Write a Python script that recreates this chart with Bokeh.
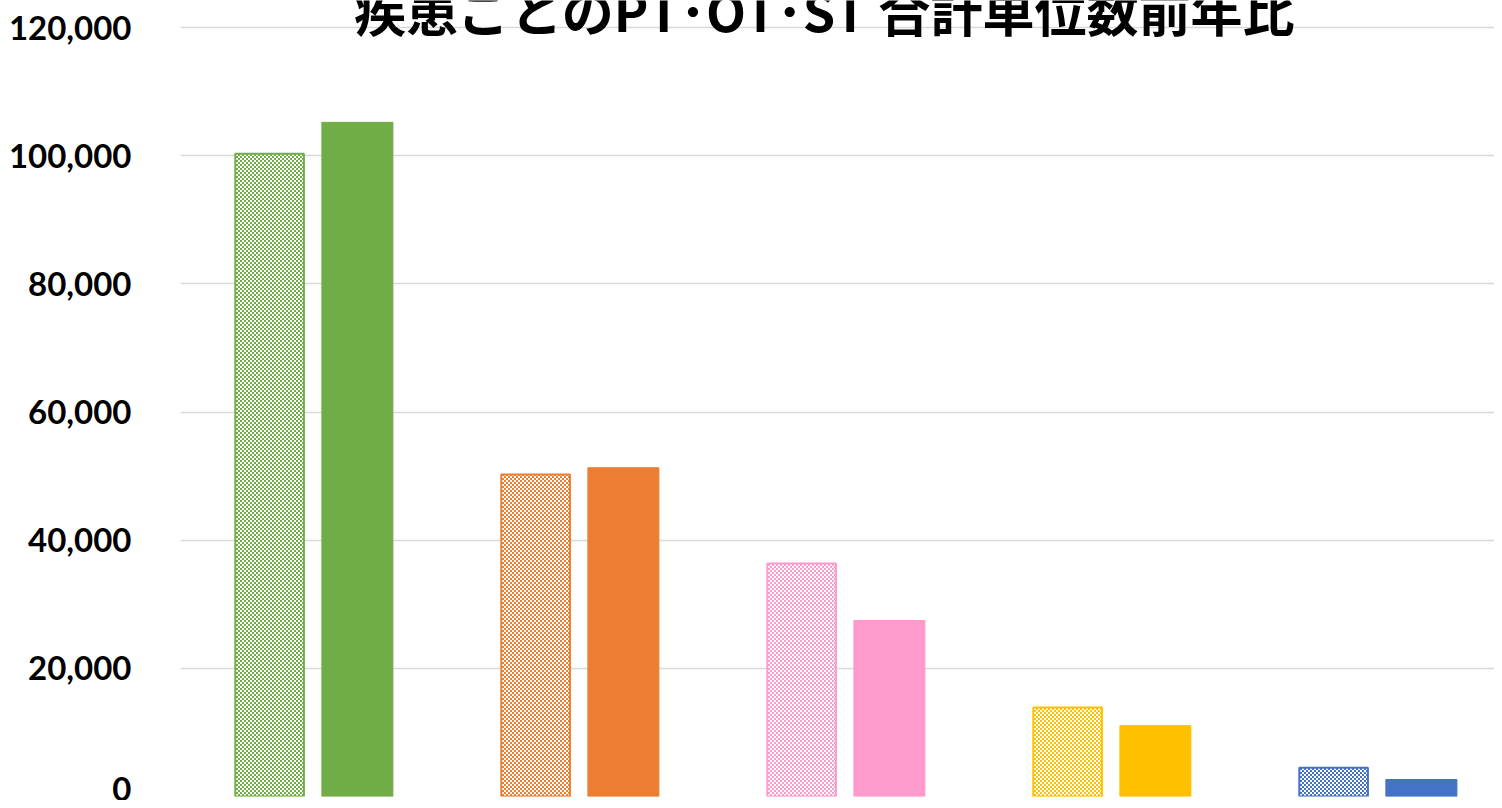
import zlib, struct, base64
from bokeh.plotting import figure
from bokeh.models import ColumnDataSource, Range1d, FixedTicker, Label, ImageURLTexture, NumeralTickFormatter
from bokeh.transform import dodge
from bokeh.embed import file_html
from bokeh.resources import INLINE

# ---- data ----
categories = ["運動器", "脳血管", "廃用症候群", "心大血管", "呼吸器"]
prev_year = [100300, 50250, 36350, 13900, 4500]
this_year = [105200, 51300, 27450, 11050, 2650]
colors = ["#70AD47", "#ED7D31", "#FF9ACD", "#FFC000", "#4472C4"]
y_ticks = [0, 20000, 40000, 60000, 80000, 100000, 120000]
title_text = "疾患ごとのPT･OT･ST  合計単位数前年比"


def checker_png(hex_color, cell=2):
    r, g, b = int(hex_color[1:3], 16), int(hex_color[3:5], 16), int(hex_color[5:7], 16)
    on, off = bytes([r, g, b]), bytes([255, 255, 255])
    n = cell * 2
    raw = b""
    for yy in range(n):
        row = b"\x00"
        for xx in range(n):
            row += on if ((xx // cell) + (yy // cell)) % 2 == 0 else off
        raw += row

    def chunk(t, d):
        return struct.pack(">I", len(d)) + t + d + struct.pack(">I", zlib.crc32(t + d) & 0xFFFFFFFF)

    png = (b"\x89PNG\r\n\x1a\n"
           + chunk(b"IHDR", struct.pack(">IIBBBBB", n, n, 8, 2, 0, 0, 0))
           + chunk(b"IDAT", zlib.compress(raw))
           + chunk(b"IEND", b""))
    return "data:image/png;base64," + base64.b64encode(png).decode()


pat_names = ["chk%d" % i for i in range(len(colors))]
hatch_extra = {name: ImageURLTexture(url=checker_png(c)) for name, c in zip(pat_names, colors)}

src = ColumnDataSource(dict(
    x=list(range(len(categories))),
    prev=prev_year,
    cur=this_year,
    color=colors,
    pat=pat_names,
))

W, H = 1494, 800
LEFT = 180
PX_PER_CAT = 266.0
PX_PER_UNIT = 769.0 / 120000
y_end = 120000 + 27 / PX_PER_UNIT

p = figure(width=W, height=H, output_backend="svg", toolbar_location=None,
           x_range=Range1d(-0.5, -0.5 + (W - LEFT) / PX_PER_CAT),
           y_range=Range1d(0, y_end),
           min_border_left=LEFT, min_border_right=0, min_border_top=0, min_border_bottom=4)

p.vbar(x=dodge("x", -0.165, range=p.x_range), top="prev", width=0.258, source=src,
       fill_color="white", line_color="color", line_width=2,
       hatch_pattern="pat", hatch_extra=hatch_extra)
p.vbar(x=dodge("x", 0.165, range=p.x_range), top="cur", width=0.267, source=src,
       fill_color="color", line_color="color", line_width=1)

p.xaxis.visible = False
p.xgrid.grid_line_color = None
p.ygrid.grid_line_color = "#D9D9D9"
p.ygrid.grid_line_width = 1.5
p.ygrid.ticker = FixedTicker(ticks=y_ticks)
p.outline_line_color = None

ya = p.yaxis[0]
ya.ticker = FixedTicker(ticks=y_ticks)
ya.formatter = NumeralTickFormatter(format="0,0")
ya.axis_line_color = None
ya.major_tick_line_color = None
ya.minor_tick_line_color = None
ya.major_label_standoff = 43
ya.major_label_text_font = "Lato"
ya.major_label_text_font_style = "bold"
ya.major_label_text_font_size = "33px"
ya.major_label_text_color = "black"

title = Label(x=-0.5 + (830 - LEFT) / PX_PER_CAT, y=y_end - 9 / PX_PER_UNIT, text=title_text,
              text_align="center", text_baseline="middle",
              text_font="Noto Sans CJK JP", text_font_style="bold", text_font_size="52px",
              text_color="black")
p.add_layout(title)

open("out.html", "w").write(file_html(p, INLINE))
